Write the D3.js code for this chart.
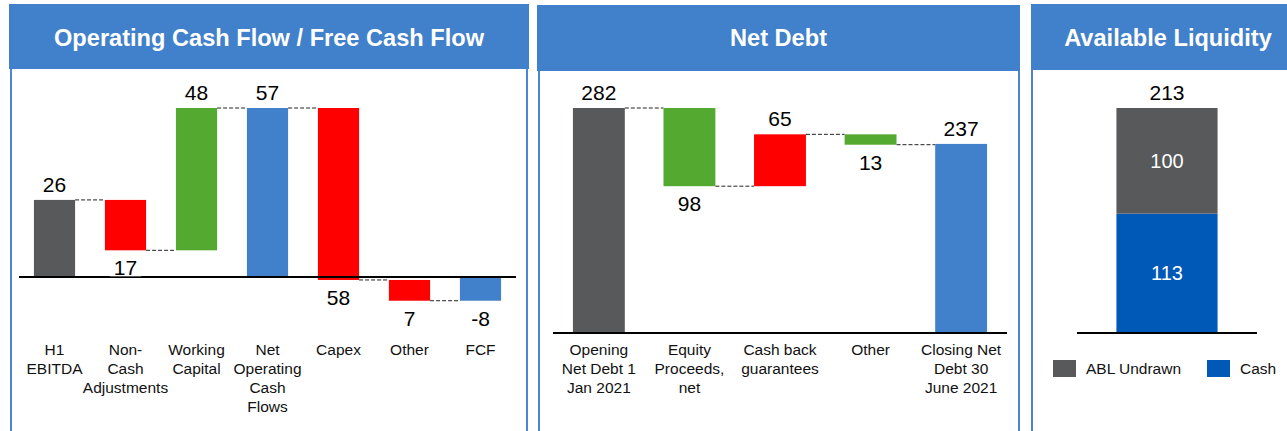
<!DOCTYPE html>
<meta charset="utf-8">
<script src="https://d3js.org/d3.v7.min.js"></script>
<style>
  body { margin: 0; background: #fff; }
  text { font-family: Arial, "Liberation Sans", sans-serif; }
</style>
<div id="chart"></div>
<script>
// ---- data ----
var cfCategories = [["H1", "EBITDA"], ["Non-", "Cash", "Adjustments"], ["Working", "Capital"],
  ["Net", "Operating", "Cash", "Flows"], ["Capex"], ["Other"], ["FCF"]];
var cfValues = [26, -17, 48, 57, -58, -7, -8];
var cfKinds = ["start", "delta", "delta", "total", "delta", "delta", "total"];

var ndCategories = [["Opening", "Net Debt 1", "Jan 2021"], ["Equity", "Proceeds,", "net"],
  ["Cash back", "guarantees"], ["Other"], ["Closing Net", "Debt 30", "June 2021"]];
var ndValues = [282, -98, 65, -13, 237];
var ndKinds = ["start", "delta", "delta", "delta", "total"];

var liqSeries = ["Cash", "ABL Undrawn"];
var liqValues = [113, 100];
var liqTotal = 213;
var legendOrder = ["ABL Undrawn", "Cash"];

var titles = ["Operating Cash Flow / Free Cash Flow", "Net Debt", "Available Liquidity"];

// ---- colours ----
var GRAY = "#58595b", RED = "#ff0000", GREEN = "#54a930", BLUE = "#4180ca",
    HEADER = "#4180ca", CASH = "#0058b7", BORDER = "#4a86d2";

var width = 1287, height = 431;
var svg = d3.select("#chart").append("svg")
  .attr("width", width).attr("height", height);
svg.append("rect").attr("width", width).attr("height", height).attr("fill", "#fff");

// panel frames: header box + side lines
var panels = [
  { x0: 9, x1: 529, y0: 4, y1: 69, left: 11, right: 527 },
  { x0: 537, x1: 1020, y0: 5, y1: 71, left: 539, right: 1019 },
  { x0: 1031, x1: 1287, y0: 4, y1: 70, left: 1032, right: null }
];
panels.forEach(function (p, i) {
  svg.append("rect").attr("x", p.x0).attr("y", p.y0)
    .attr("width", p.x1 - p.x0).attr("height", p.y1 - p.y0).attr("fill", HEADER);
  svg.append("line").attr("x1", p.left).attr("x2", p.left)
    .attr("y1", p.y1).attr("y2", height).attr("stroke", BORDER).attr("stroke-width", 2);
  if (p.right) {
    svg.append("line").attr("x1", p.right).attr("x2", p.right)
      .attr("y1", p.y1).attr("y2", height).attr("stroke", BORDER).attr("stroke-width", 2);
  }
  var cx = i == 2 ? 1168 : (p.x0 + p.x1) / 2;
  svg.append("text").attr("x", cx).attr("y", 46)
    .attr("text-anchor", "middle").attr("fill", "#fff")
    .attr("font-size", "23.6px").attr("font-weight", "bold")
    .text(titles[i]);
});

function waterfall(cats, vals, kinds, colorOf, xr, yd, yr, padIn, padOut) {
  var names = cats.map(function (c) { return c.join(" "); });
  var x = d3.scaleBand().domain(names).range(xr).paddingInner(padIn).paddingOuter(padOut);
  var y = d3.scaleLinear().domain(yd).range(yr);

  // compute running levels
  var run = 0;
  var bars = vals.map(function (v, i) {
    var b = { name: names[i], cat: cats[i], v: v, kind: kinds[i] };
    if (kinds[i] == "delta") {
      b.from = run; b.to = run + v; run = b.to;
    } else {
      b.from = 0; b.to = v; run = v;
    }
    b.lo = Math.min(b.from, b.to); b.hi = Math.max(b.from, b.to);
    b.color = colorOf(b, i);
    return b;
  });

  var g = svg.append("g");

  // connectors
  for (var i = 0; i < bars.length - 1; i++) {
    var lvl = bars[i].to;
    g.append("line")
      .attr("x1", x(bars[i].name) + x.bandwidth())
      .attr("x2", x(bars[i + 1].name))
      .attr("y1", y(lvl)).attr("y2", y(lvl))
      .attr("stroke", "#222").attr("stroke-width", 1)
      .attr("stroke-dasharray", "4,2");
  }

  g.selectAll("rect.bar").data(bars).enter().append("rect")
    .attr("class", "bar")
    .attr("x", function (d) { return x(d.name); })
    .attr("width", x.bandwidth())
    .attr("y", function (d) { return y(d.hi); })
    .attr("height", function (d) { return y(d.lo) - y(d.hi); })
    .attr("fill", function (d) { return d.color; });

  // baseline
  g.append("line").attr("x1", xr[0]).attr("x2", xr[1])
    .attr("y1", y(0)).attr("y2", y(0))
    .attr("stroke", "#000").attr("stroke-width", 2);

  // value labels
  bars.forEach(function (d) {
    var above = d.kind == "delta" ? d.v > 0 : d.v >= 0;
    var cx = x(d.name) + x.bandwidth() / 2;
    var ty = above ? y(d.hi) - 8 : y(d.lo) + 25;
    var txt = d.kind == "delta" ? Math.abs(d.v) : d.v;
    var t = g.append("text").attr("x", cx).attr("y", ty)
      .attr("text-anchor", "middle").attr("font-size", "21px").attr("fill", "#000")
      .text(txt);
    // label sitting on the baseline gets a white backing
    var bb = t.node().getBBox();
    if (bb.y < y(0) && bb.y + bb.height > y(0)) {
      g.insert("rect", function () { return t.node(); })
        .attr("x", bb.x - 4).attr("y", bb.y + 3)
        .attr("width", bb.width + 8).attr("height", bb.height - 6)
        .attr("fill", "#fff");
    }
  });

  // category labels
  bars.forEach(function (d) {
    var t = g.append("text").attr("text-anchor", "middle")
      .attr("font-size", "15.5px").attr("fill", "#111")
      .attr("y", 355);
    d.cat.forEach(function (line, k) {
      t.append("tspan").attr("x", x(d.name) + x.bandwidth() / 2)
        .attr("dy", k == 0 ? 0 : 19).text(line);
    });
  });
}

// Operating cash flow / FCF
waterfall(cfCategories, cfValues, cfKinds, function (b, i) {
  if (b.kind == "start") return GRAY;
  if (b.kind == "total") return BLUE;
  return b.v < 0 ? RED : GREEN;
}, [19, 516], [0, 57], [277, 108], 0.42, 0.21);

// Net debt
waterfall(ndCategories, ndValues, ndKinds, function (b, i) {
  if (b.kind == "start") return GRAY;
  if (b.kind == "total") return BLUE;
  return b.v < 0 ? GREEN : RED;
}, [553, 1007], [0, 282], [333, 108], 0.427, 0.22);

// Available liquidity (stacked)
(function () {
  var x = d3.scaleBand().domain(["Liquidity"]).range([1077, 1257]).paddingInner(0).paddingOuter(0.39);
  var y = d3.scaleLinear().domain([0, liqTotal]).range([333, 108]);
  var colors = { "Cash": CASH, "ABL Undrawn": GRAY };
  var g = svg.append("g");
  var base = 0;
  liqSeries.forEach(function (s, i) {
    var v = liqValues[i];
    g.append("rect").attr("x", x("Liquidity")).attr("width", x.bandwidth())
      .attr("y", y(base + v)).attr("height", y(base) - y(base + v))
      .attr("fill", colors[s]);
    g.append("text").attr("x", x("Liquidity") + x.bandwidth() / 2)
      .attr("y", y(base + v / 2) + 7).attr("text-anchor", "middle")
      .attr("font-size", "20px").attr("fill", "#fff").text(v);
    base += v;
  });
  g.append("line").attr("x1", 1077).attr("x2", 1257).attr("y1", y(0)).attr("y2", y(0))
    .attr("stroke", "#000").attr("stroke-width", 2);
  g.append("text").attr("x", x("Liquidity") + x.bandwidth() / 2).attr("y", y(liqTotal) - 8)
    .attr("text-anchor", "middle").attr("font-size", "21px").text(liqTotal);

  // legend
  var lx = [1053, 1207];
  legendOrder.forEach(function (s, i) {
    g.append("rect").attr("x", lx[i]).attr("y", 360).attr("width", 23).attr("height", 17)
      .attr("fill", colors[s]);
    g.append("text").attr("x", lx[i] + 33).attr("y", 374).attr("font-size", "15.5px")
      .attr("fill", "#111").text(s);
  });
})();
</script>
